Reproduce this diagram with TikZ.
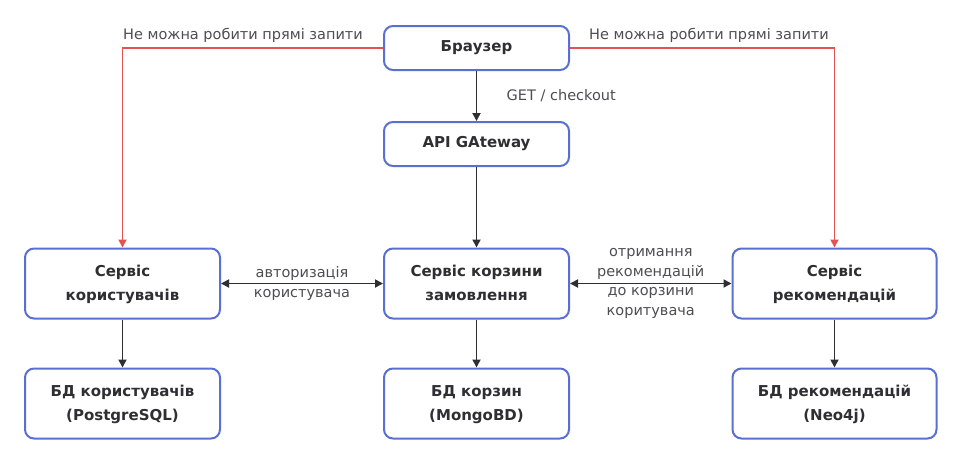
\documentclass[tikz,border=0pt]{standalone}
\usepackage{fontspec}
\setmainfont{DejaVu Sans}
\usetikzlibrary{arrows.meta}
\definecolor{boxblue}{HTML}{5B6FD3}
\definecolor{lineRed}{HTML}{E35353}
\definecolor{ink}{HTML}{2E2E33}

\begin{document}
\begin{tikzpicture}[x=1pt, y=-1pt,
	box/.style={draw=boxblue, line width=2pt, rounded corners=9pt, fill=white,
		minimum width=185pt, text=ink, font=\fontsize{15}{24}\selectfont\bfseries, align=center},
	smallbox/.style={box, minimum height=44pt},
	bigbox/.style={box, minimum height=70pt, text depth=1.5pt},
	flow/.style={-{Triangle[length=8pt, width=8pt]}, line width=1.8pt, ink},
	both/.style={{Triangle[length=8pt, width=8pt]}-{Triangle[length=8pt, width=8pt]}, line width=1.8pt, ink},
	banned/.style={-{Triangle[length=8pt, width=8pt]}, line width=1.8pt, lineRed},
	note/.style={text=ink!85, font=\fontsize{14.5}{19.5}\selectfont, align=center}]
		\useasboundingbox (0, 0) rectangle (962, 464);
		%%%%% NODES %%%%%
		\node[smallbox] (browser) at (476.5, 48) {Браузер};
		\node[smallbox] (gateway) at (476.5, 144) {API GAteway};
		
		\node[bigbox, minimum width=195pt] (users) at (122.5, 283.5) {Сервіс\\користувачів};
		\node[bigbox] (cart) at (476.5, 283.5) {Сервіс корзини\\замовлення};
		\node[bigbox, minimum width=204pt] (recs) at (834.5, 283.5) {Сервіс\\рекомендацій};
		
		\node[bigbox, minimum width=195pt] (usersdb) at (122.5, 403.5) {БД користувачів\\(PostgreSQL)};
		\node[bigbox] (cartdb) at (476.5, 403.5) {БД корзин\\(MongoBD)};
		\node[bigbox, minimum width=204pt] (recsdb) at (834.5, 403.5) {БД рекомендацій\\(Neo4j)};
		
		%%%%% ARROWS %%%%%
		\draw[flow] (browser) -- node[note, right=26pt] {GET / checkout} (gateway);
		\draw[flow] (gateway) -- (cart);
		
		\draw[banned] (browser.west) -| node[note, at start, anchor=south east, xshift=-16pt, yshift=1pt] {Не можна робити прямі запити} (users.north);
		\draw[banned] (browser.east) -| node[note, at start, anchor=south west, xshift=15pt, yshift=1pt] {Не можна робити прямі запити} (recs.north);
		
		\draw[both] (users) -- node[note] {авторизація\\користувача} (cart);
		\draw[both] (cart) -- node[note] {отримання\\рекомендацій\\до корзини\\коритувача} (recs);
		
		\draw[flow] (users) -- (usersdb);
		\draw[flow] (cart) -- (cartdb);
		\draw[flow] (recs) -- (recsdb);
	\end{tikzpicture}
\end{document}
